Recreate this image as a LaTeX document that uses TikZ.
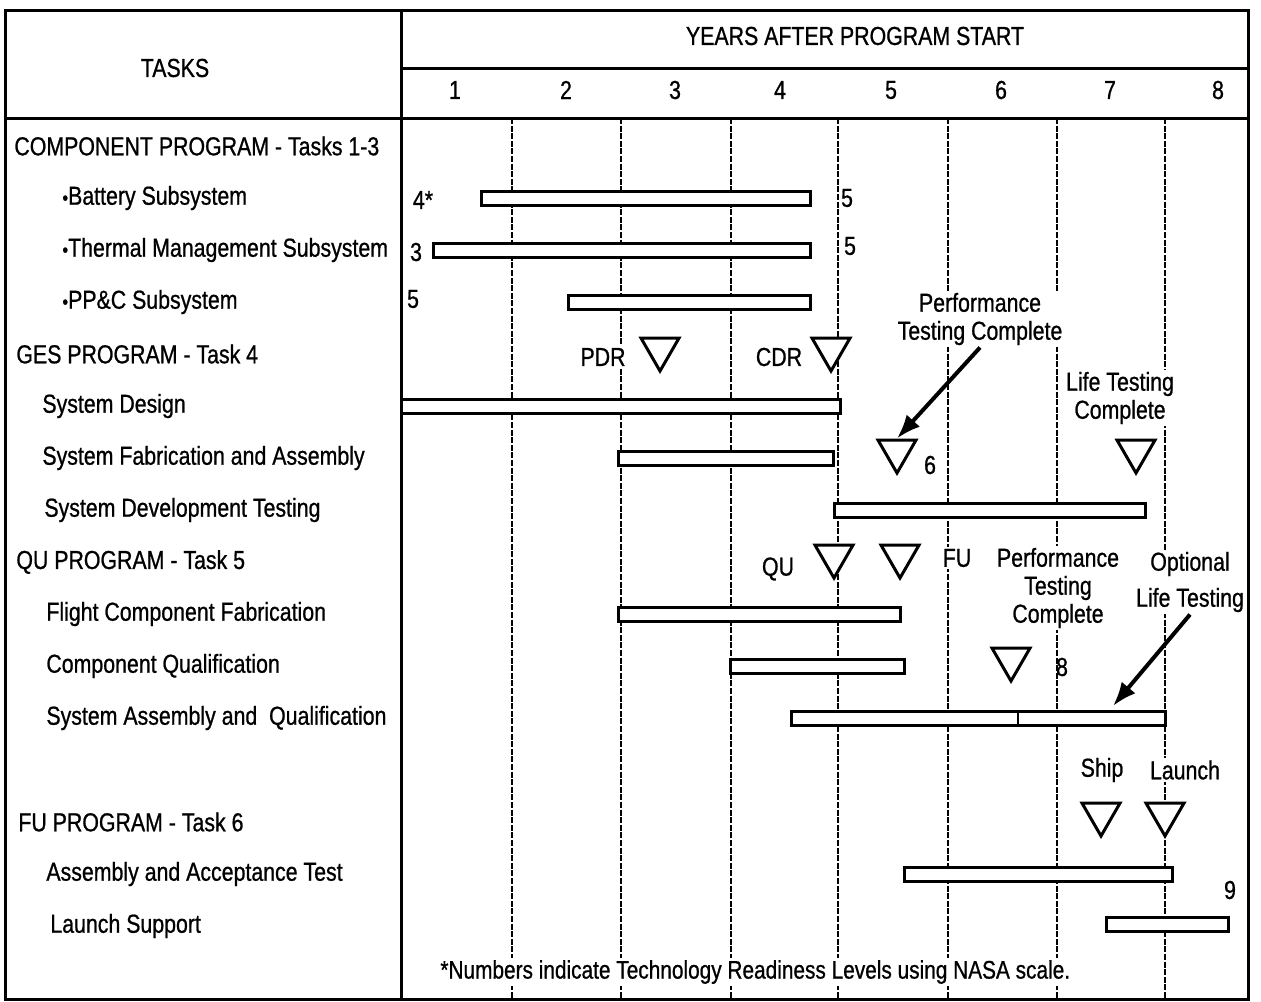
\documentclass[tikz,border=0pt]{standalone}
\usepackage{fontspec}
\setmainfont[FakeStretch=0.82,FakeBold=0.8]{Liberation Sans}
\usetikzlibrary{shapes.geometric,arrows.meta}

\begin{document}
\begin{tikzpicture}[
  x=0.5pt, y=-0.5pt,
  every node/.style={font=\fontsize{13}{14}\selectfont, inner sep=1pt},
  frame/.style={line width=1.5pt},
  yearline/.style={line width=0.8pt, dash pattern=on 3pt off 0.8pt},
  bar/.style={draw, fill=white, line width=1.5pt},
  task/.style={anchor=west},
  lbl/.style={fill=white, align=center},
  mile/.style={draw, fill=white, regular polygon, regular polygon sides=3, shape border rotate=180, minimum size=22pt, inner sep=0pt, line width=1.5pt},
  callout/.style={-{Latex[length=12pt,width=9pt]}, line width=2pt}
]
  \useasboundingbox (0,0) rectangle (1261,1001);

  \draw[frame] (5,10) rectangle (1248,999);
  \draw[frame] (401,10) -- (401,999);
  \draw[frame] (401,68) -- (1248,68);
  \draw[frame] (5,118) -- (1248,118);

  \draw[yearline] (512,118) -- (512,999);
  \draw[yearline] (621,118) -- (621,999);
  \draw[yearline] (731,118) -- (731,999);
  \draw[yearline] (838,118) -- (838,999);
  \draw[yearline] (948,118) -- (948,999);
  \draw[yearline] (1057,118) -- (1057,999);
  \draw[yearline] (1165,118) -- (1165,999);

  \node (tasks) at (175,68) {TASKS};
  \node (years) at (855,36) {YEARS AFTER PROGRAM START};
  \node (y1) at (455,90) {1};
  \node (y2) at (566,90) {2};
  \node (y3) at (675,90) {3};
  \node (y4) at (780,90) {4};
  \node (y5) at (891,90) {5};
  \node (y6) at (1001,90) {6};
  \node (y7) at (1110,90) {7};
  \node (y8) at (1218,90) {8};

  \node[task] (comp) at (12,146) {COMPONENT PROGRAM - Tasks 1-3};
  \node[task] (batt) at (60,198) {{\fontsize{10}{10}\selectfont •}Battery Subsystem};
  \node[task] (therm) at (60,250) {{\fontsize{10}{10}\selectfont •}Thermal Management Subsystem};
  \node[task] (ppc) at (60,302) {{\fontsize{10}{10}\selectfont •}PP\&C Subsystem};
  \node[task] (ges) at (14,354) {GES PROGRAM - Task 4};
  \node[task] (sdes) at (40,406) {System Design};
  \node[task] (sfab) at (40,458) {System Fabrication and Assembly};
  \node[task] (sdev) at (42,510) {System Development Testing};
  \node[task] (qu) at (14,562) {QU PROGRAM - Task 5};
  \node[task] (ffab) at (44,614) {Flight Component Fabrication};
  \node[task] (cqual) at (44,666) {Component Qualification};
  \node[task] (sasm) at (44,718) {System Assembly and~ Qualification};
  \node[task] (fu) at (16,822) {FU PROGRAM - Task 6};
  \node[task] (acc) at (44,874) {Assembly and Acceptance Test};
  \node[task] (lsup) at (48,926) {Launch Support};

  \draw[bar] (481,191) rectangle (810,205);
  \draw[bar] (433,243) rectangle (810,257);
  \draw[bar] (568,295) rectangle (810,309);
  \draw[bar] (401,399) rectangle (840,413);
  \draw[bar] (618,451) rectangle (833,465);
  \draw[bar] (834,503) rectangle (1145,517);
  \draw[bar] (618,607) rectangle (900,621);
  \draw[bar] (730,659) rectangle (904,673);
  \draw[bar] (791,711) rectangle (1165,725);
  \draw[line width=1.2pt] (1018,711) -- (1018,725);
  \draw[bar] (904,867) rectangle (1172,881);
  \draw[bar] (1106,917) rectangle (1228,931);

  \node[lbl] (trl4) at (423,200) {4*};
  \node[lbl] (trl5a) at (847,198) {5};
  \node[lbl] (trl3) at (416,252) {3};
  \node[lbl] (trl5b) at (850,246) {5};
  \node[lbl] (trl5c) at (413,299) {5};

  \node[lbl] (pdr) at (603,357) {PDR};
  \node[mile] (pdrm) at (660,349) {};
  \node[lbl] (cdr) at (779,357) {CDR};
  \node[mile] (cdrm) at (831,349) {};

  \node[lbl] (perf1) at (980,319) {Performance\\Testing Complete};
  \node[mile] (perf1m) at (897,451) {};
  \node[lbl] (trl6) at (930,465) {6};
  \node[lbl] (life1) at (1120,398) {Life Testing\\Complete};
  \node[mile] (life1m) at (1136,451) {};

  \node[lbl] (qulbl) at (778,569) {QU};
  \node[mile] (qum) at (834,556) {};
  \node[mile] (fum) at (900,556) {};
  \node[lbl] (fulbl) at (957,558) {FU};
  \node[lbl] (perf2) at (1058,588) {Performance\\Testing\\Complete};
  \node[mile] (perf2m) at (1011,659) {};
  \node (trl8) at (1062,667) {8};
  \node[lbl] (opt) at (1190,582) {Optional\\[4pt]Life Testing};
  \coordinate (optend) at (1113,706);

  \node[lbl] (ship) at (1102,770) {Ship};
  \node[lbl] (launch) at (1185,770) {Launch};
  \node[mile] (shipm) at (1101,814) {};
  \node[mile] (launchm) at (1165,814) {};
  \node[lbl] (trl9) at (1230,890) {9};

  \node[lbl, anchor=west, font=\fontsize{12.7}{14}\selectfont] (note) at (438,972) {*Numbers indicate Technology Readiness Levels using NASA scale.};

  \draw[callout] (perf1.south) -- (perf1m.north);
  \draw[callout] (opt.south) -- (optend);
\end{tikzpicture}
\end{document}
